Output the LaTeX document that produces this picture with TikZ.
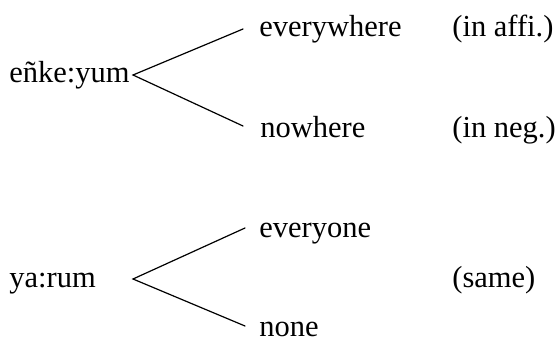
\documentclass[tikz,border=0pt]{standalone}
\usepackage{fontspec}
\setmainfont{Liberation Serif}
\begin{document}
\begin{tikzpicture}[x=0.5pt,y=-0.5pt,
  lbl/.style={anchor=base west,inner sep=0pt,font=\fontsize{15.25}{18}\selectfont},
  branch/.style={line width=0.6pt,line cap=round,line join=miter}]
\useasboundingbox (0,0) rectangle (556,342);
% group 1
\node[lbl] (ek) at (9,83) {eñke:yum};
\node[lbl] (ew) at (259,37) {everywhere};
\node[lbl] (aff) at (452,37) {(in affi.)};
\node[lbl] (nw) at (260,137) {nowhere};
\node[lbl] (neg) at (452,137) {(in neg.)};
\coordinate (v1) at (133,75);
\coordinate (u1) at (243,29);
\coordinate (l1) at (243,126);
\draw[branch] (u1) -- (v1) -- (l1);
% group 2
\node[lbl] (yr) at (9,287) {ya:rum};
\node[lbl] (eo) at (259,237) {everyone};
\node[lbl] (no) at (259,336) {none};
\node[lbl] (sm) at (452,287) {(same)};
\coordinate (v2) at (133,279);
\coordinate (u2) at (245,228);
\coordinate (l2) at (245,326);
\draw[branch] (u2) -- (v2) -- (l2);
\end{tikzpicture}
\end{document}
